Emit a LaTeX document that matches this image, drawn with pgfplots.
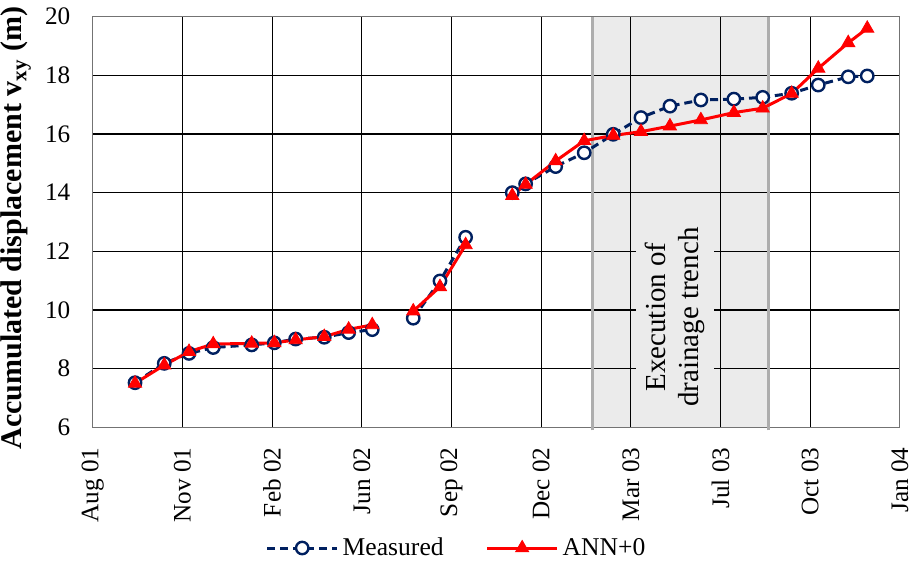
\documentclass[border=0pt]{standalone}
\usepackage{fontspec}
\setmainfont{Liberation Serif}
\usepackage{pgfplots}
\pgfplotsset{compat=1.18}
\usepackage{pgfplotstable}

\definecolor{meas}{HTML}{002060}
\definecolor{ann}{HTML}{FF0000}
\definecolor{shadegray}{HTML}{EBEBEB}
\definecolor{shadeedge}{HTML}{ADADAD}

% day = days after the Aug 01 tick (ticks every 100 days)
\pgfplotstableread{
day disp
47.2 7.52
79.8 8.18
107.4 8.52
134.4 8.72
177.3 8.81
202.5 8.88
226.3 9.01
258.2 9.07
285.4 9.23
311.7 9.33
nan nan
357.4 9.72
387.2 10.99
415.8 12.48
nan nan
467.8 14.00
482.7 14.30
516.2 14.89
548.0 15.36
580.4 15.99
611.3 16.56
643.6 16.95
678.1 17.16
714.9 17.19
747.0 17.25
779.3 17.39
809.0 17.67
842.4 17.95
863.6 17.98
}\measured

\pgfplotstableread{
day disp
47.2 7.50
79.8 8.12
107.4 8.58
134.4 8.84
177.3 8.86
202.5 8.88
226.3 8.98
258.2 9.09
285.4 9.34
311.7 9.49
nan nan
357.4 9.96
387.2 10.79
415.8 12.22
nan nan
467.8 13.90
482.7 14.28
516.2 15.08
548.0 15.77
580.4 15.95
611.3 16.08
643.6 16.27
678.1 16.48
714.9 16.73
747.0 16.88
779.3 17.38
809.0 18.24
842.4 19.11
863.6 19.60
}\ann

\begin{document}
\begin{tikzpicture}
\begin{axis}[
  set layers,
  scale only axis,
  width=403.6pt, height=205.3pt,
  xmin=0, xmax=900, ymin=6, ymax=20,
  xtick={0,100,...,900},
  xticklabels={Aug 01,Nov 01,Feb 02,Jun 02,Sep 02,Dec 02,Mar 03,Jul 03,Oct 03,Jan 04},
  ytick={6,8,...,20},
  grid=major,
  major grid style={black, line width=0.55pt},
  axis line style={black!55, line width=0.6pt},
  major tick length=0pt,
  tick label style={font=\fontsize{12.6}{15}\selectfont},
  /pgf/number format/assume math mode=true,
  xticklabel style={rotate=90, anchor=east, inner sep=0pt},
  xticklabel shift=10pt,
  yticklabel style={anchor=east, inner sep=0pt},
  yticklabel shift=11pt,
  ylabel={\textbf{Accumulated displacement v\textsubscript{xy} (m)}},
  ylabel style={font=\fontsize{15}{18}\selectfont, at={(axis description cs:-0.095,0.485)}, anchor=center},
  legend columns=2,
  legend style={at={(axis description cs:0.452,-0.294)}, anchor=center, draw=none, fill=none,
    font=\fontsize{12.8}{15}\selectfont, inner sep=0pt,
    /tikz/every even column/.append style={column sep=19pt}},
  legend image code/.code={\draw[mark repeat=2,mark phase=2,#1] plot coordinates {(0pt,0pt) (17.5pt,0pt) (35pt,0pt)};},
  unbounded coords=jump,
  clip=false,
]
\begin{pgfonlayer}{axis background}
  \fill[shadegray] (axis cs:557.4,6) rectangle (axis cs:753.6,20);
\end{pgfonlayer}
\draw[shadeedge, line width=1.6pt] ([yshift=-1.5pt]axis cs:557.4,6) -- (axis cs:557.4,20);
\draw[shadeedge, line width=1.6pt] ([yshift=-1.5pt]axis cs:753.6,6) -- (axis cs:753.6,20);
\node[rotate=90, align=center, fill=shadegray, inner xsep=3pt, inner ysep=4.5pt,
  font=\fontsize{14.5}{16.5}\selectfont] at (axis cs:649,9.76) {Execution of\\drainage trench};

\addplot[meas, line width=1.5pt, dash pattern=on 4pt off 2.5pt,
  mark=*, mark size=3.1pt, mark options={solid, fill=white, draw=meas, line width=1.2pt}]
  table[x=day, y=disp]{\measured};
\addplot[ann, line width=1.5pt,
  mark=triangle*, mark size=3.8pt, mark options={solid, fill=ann, draw=ann, line width=0.4pt}]
  table[x=day, y=disp]{\ann};
\legend{Measured, ANN+0}
\end{axis}
\pgfresetboundingbox
\path[use as bounding box] (-46.35pt,-67.85pt) rectangle (409.65pt,213.65pt);
\end{tikzpicture}
\end{document}
